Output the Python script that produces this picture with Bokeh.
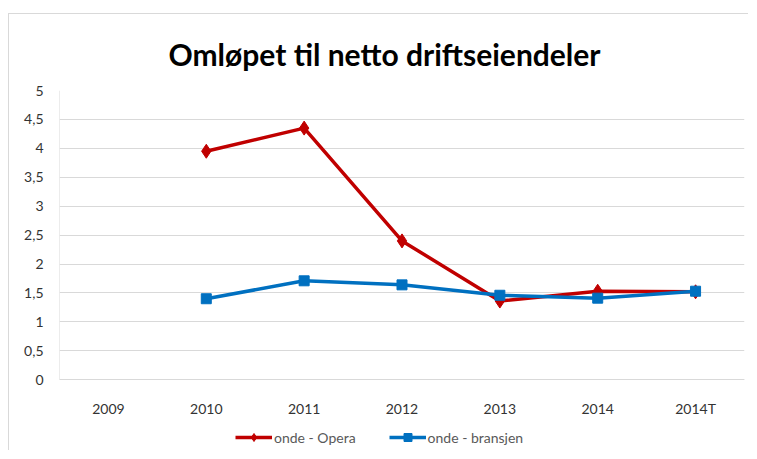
from bokeh.plotting import figure
from bokeh.models import FixedTicker, Legend, LegendItem, ColumnDataSource
from bokeh.embed import file_html
from bokeh.resources import INLINE

years = ["2009", "2010", "2011", "2012", "2013", "2014", "2014T"]
opera_years = ["2010", "2011", "2012", "2013", "2014", "2014T"]
opera = [3.95, 4.35, 2.40, 1.36, 1.53, 1.52]
bransjen_years = ["2010", "2011", "2012", "2013", "2014", "2014T"]
bransjen = [1.40, 1.71, 1.64, 1.46, 1.41, 1.53]
y_ticks = [0, 0.5, 1, 1.5, 2, 2.5, 3, 3.5, 4, 4.5, 5]
y_labels = ["0", "0,5", "1", "1,5", "2", "2,5", "3", "3,5", "4", "4,5", "5"]

FONT = "Lato"
GREY = "#595959"

# extra room below zero inside the frame holds the category labels and the legend
p = figure(x_range=years, y_range=(-1.241, 5), width=740, height=437,
           output_backend="svg", toolbar_location=None,
           min_border_left=50, min_border_right=5, min_border_top=75, min_border_bottom=0,
           title="Omløpet til netto driftseiendeler")
p.styles = {"border-top": "1px solid #d9d9d9", "border-left": "1px solid #d9d9d9",
            "margin-left": "8px", "margin-top": "13px"}
p.title.align = "left"
p.title.offset = 109
p.title.text_font = FONT
p.title.text_font_size = "30px"
p.title.text_font_style = "bold"
p.title.text_color = "#000000"
p.title.standoff = 38

p.outline_line_color = None
p.background_fill_color = "white"
p.border_fill_color = "white"

p.xgrid.grid_line_color = None
p.ygrid.ticker = FixedTicker(ticks=y_ticks)
p.ygrid.grid_line_color = "#d9d9d9"
p.ygrid.grid_line_width = 1

p.yaxis.ticker = FixedTicker(ticks=y_ticks)
p.yaxis.major_label_overrides = {t: l for t, l in zip(y_ticks, y_labels)}
p.yaxis.axis_line_color = None
p.yaxis.major_tick_line_color = None
p.yaxis.minor_tick_line_color = None
p.yaxis.major_label_standoff = 10

p.xaxis.fixed_location = y_ticks[0]
p.xaxis.axis_line_color = "#d9d9d9"
p.xaxis.major_tick_line_color = None
p.xaxis.minor_tick_line_color = None
p.xaxis.major_label_standoff = 14

for ax in (p.xaxis, p.yaxis):
    ax.major_label_text_font = FONT
    ax.major_label_text_font_size = "14px"
    ax.major_label_text_color = "#333333"

# left edge line of the plot area, spanning the value axis range
p.segment(x0=[0], y0=[y_ticks[0]], x1=[0], y1=[y_ticks[-1]], line_color="#d9d9d9", line_width=1)

s1 = ColumnDataSource(dict(x=opera_years, y=opera))
s2 = ColumnDataSource(dict(x=bransjen_years, y=bransjen))

RED = "#C00000"
BLUE = "#0070C0"
l1 = p.line("x", "y", source=s1, line_color=RED, line_width=3.5)
m1 = p.scatter("x", "y", source=s1, marker="diamond", size=14, fill_color=RED, line_color=RED)
l2 = p.line("x", "y", source=s2, line_color=BLUE, line_width=3.5)
m2 = p.scatter("x", "y", source=s2, marker="square", size=10, fill_color=BLUE, line_color=BLUE)

legend = Legend(items=[LegendItem(label="onde - Opera", renderers=[l1, m1]),
                       LegendItem(label="onde - bransjen", renderers=[l2, m2])],
                orientation="horizontal", location=(176, 4),
                label_text_font=FONT, label_text_font_size="14px", label_text_color=GREY,
                border_line_color=None, background_fill_alpha=0,
                glyph_width=37, label_standoff=2, spacing=33, padding=4, margin=0)
p.add_layout(legend, "center")

open("out.html", "w").write(file_html(p, INLINE))
